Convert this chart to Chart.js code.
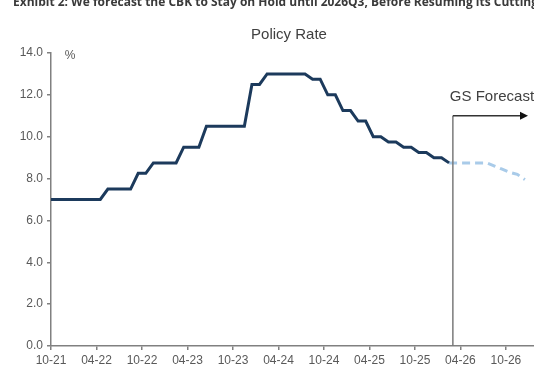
<!DOCTYPE html>
<html>
<head>
<meta charset="utf-8">
<script src="https://cdn.jsdelivr.net/npm/chart.js@4.4.1/dist/chart.umd.min.js"></script>
<style>
  html, body { margin: 0; padding: 0; background: #fff; }
</style>
</head>
<body>
<canvas id="myChart" width="534" height="371"></canvas>
<script>
// monthly categories, Oct 2021 .. Jan 2027 (MM-YY)
var months = [
    '10-21', '11-21', '12-21', '01-22', '02-22', '03-22', '04-22', '05-22', '06-22', '07-22', '08-22', '09-22',
    '10-22', '11-22', '12-22', '01-23', '02-23', '03-23', '04-23', '05-23', '06-23', '07-23', '08-23', '09-23',
    '10-23', '11-23', '12-23', '01-24', '02-24', '03-24', '04-24', '05-24', '06-24', '07-24', '08-24', '09-24',
    '10-24', '11-24', '12-24', '01-25', '02-25', '03-25', '04-25', '05-25', '06-25', '07-25', '08-25', '09-25',
    '10-25', '11-25', '12-25', '01-26', '02-26', '03-26', '04-26', '05-26', '06-26', '07-26', '08-26', '09-26',
    '10-26', '11-26', '12-26', '01-27'
];

// CBK policy rate, Oct 2021 .. Feb 2026 (%)
var policyRate = [
    7.0, 7.0, 7.0, 7.0, 7.0, 7.0, 7.0,
    7.5, 7.5, 7.5, 7.5,
    8.25, 8.25,
    8.75, 8.75, 8.75, 8.75,
    9.5, 9.5, 9.5,
    10.5, 10.5, 10.5, 10.5, 10.5, 10.5,
    12.5, 12.5,
    13.0, 13.0, 13.0, 13.0, 13.0, 13.0,
    12.75, 12.75,
    12.0, 12.0,
    11.25, 11.25,
    10.75, 10.75,
    10.0, 10.0,
    9.75, 9.75,
    9.5, 9.5,
    9.25, 9.25,
    9.0, 9.0,
    8.75
];

// GS forecast, Feb 2026 .. Dec 2026 (%)
var forecastRate = [8.75, 8.75, 8.75, 8.75, 8.75, 8.75, 8.6, 8.45, 8.3, 8.2, 7.95];

var yTicks = [0, 2, 4, 6, 8, 10, 12, 14];

window.onload = function () {
    var forecastStart = policyRate.length - 1;
    // points sit in the middle of their month, the first one starts at the axis
    var actualPts = policyRate.map(function (v, i) { return { x: i === 0 ? 0 : i + 0.5, y: v }; });
    var forecastPts = forecastRate.map(function (v, j) { return { x: forecastStart + j + 0.5, y: v }; });

    var labelFont = { family: '"Liberation Sans", Arial, sans-serif', size: 12 };

    var extras = {
        id: 'extras',
        afterDatasetsDraw: function (chart) {
            var ctx = chart.ctx;
            var xs = chart.scales.x, ys = chart.scales.y;
            ctx.save();

            // heading (cut at the top of the picture)
            ctx.fillStyle = '#3a3a3a';
            ctx.font = 'bold 12px "Open Sans", sans-serif';
            ctx.textBaseline = 'alphabetic';
            var head = 'Exhibit 2: We forecast the CBK to Stay on Hold until 2026Q3, Before Resuming its Cutting';
            var w = ctx.measureText(head).width;
            ctx.save();
            ctx.translate(13, 6);
            ctx.scale(525 / w, 1);
            ctx.fillText(head, 0, 0);
            ctx.restore();

            ctx.fillStyle = '#404040';
            ctx.font = '15px "Liberation Sans", Arial, sans-serif';
            ctx.textAlign = 'center';
            ctx.textBaseline = 'middle';
            ctx.fillText('Policy Rate', 289, 35);

            ctx.font = '12px "Liberation Sans", Arial, sans-serif';
            ctx.fillStyle = '#595959';
            ctx.fillText('%', 70, 56);

            // forecast marker
            var lx = xs.getPixelForValue(months.indexOf('03-26'));
            var topY = ys.getPixelForValue(11.0);
            ctx.strokeStyle = '#7a7a7a';
            ctx.lineWidth = 1.5;
            ctx.beginPath();
            ctx.moveTo(lx, ys.getPixelForValue(0));
            ctx.lineTo(lx, topY);
            ctx.stroke();
            ctx.strokeStyle = '#333';
            ctx.beginPath();
            ctx.moveTo(lx, topY);
            ctx.lineTo(chart.chartArea.right - 12, topY);
            ctx.stroke();
            ctx.fillStyle = '#111';
            ctx.beginPath();
            ctx.moveTo(chart.chartArea.right - 6, topY);
            ctx.lineTo(chart.chartArea.right - 14, topY - 4);
            ctx.lineTo(chart.chartArea.right - 14, topY + 4);
            ctx.closePath();
            ctx.fill();

            ctx.fillStyle = '#404040';
            ctx.font = '15px "Liberation Sans", Arial, sans-serif';
            ctx.textAlign = 'left';
            ctx.fillText('GS Forecast', lx - 3, 97);
            ctx.restore();
        }
    };

    var ctx = document.getElementById('myChart').getContext('2d');
    var myChart = new Chart(ctx, {
        type: 'line',
        data: {
            datasets: [{
                label: 'Policy Rate',
                data: actualPts,
                borderColor: '#1c3a5c',
                borderWidth: 3,
                pointRadius: 0,
                order: 1
            },
            {
                label: 'GS Forecast',
                data: forecastPts,
                borderColor: '#a9cbe9',
                borderWidth: 3,
                borderDash: [8, 5],
                pointRadius: 0,
                order: 2
            }]
        },
        options: {
            responsive: false,
            animation: false,
            layout: { padding: { top: 53, right: 0, bottom: 0, left: 0 } },
            plugins: {
                legend: { display: false },
                tooltip: { enabled: false },
                title: { display: false }
            },
            scales: {
                x: {
                    type: 'linear',
                    min: 0,
                    max: 63.7,
                    afterFit: function (s) { s.height = 25; },
                    ticks: {
                        stepSize: 6,
                        includeBounds: false,
                        autoSkip: false,
                        maxRotation: 0,
                        color: '#595959',
                        font: labelFont,
                        padding: 3,
                        callback: function (v) { return months[v]; }
                    },
                    grid: { drawOnChartArea: false, tickLength: 4, color: '#808080', lineWidth: 1.5 },
                    border: { color: '#808080', width: 1.5 }
                },
                y: {
                    min: yTicks[0],
                    max: yTicks[yTicks.length - 1],
                    afterFit: function (s) { s.width = 51; },
                    afterBuildTicks: function (s) { s.ticks = yTicks.map(function (v) { return { value: v }; }); },
                    ticks: {
                        color: '#595959',
                        font: labelFont,
                        padding: 4,
                        callback: function (v) { return v.toFixed(1); }
                    },
                    grid: { drawOnChartArea: false, tickLength: 4, color: '#808080', lineWidth: 1.5 },
                    border: { color: '#808080', width: 1.5 }
                }
            }
        },
        plugins: [extras]
    });
};
</script>
</body>
</html>
